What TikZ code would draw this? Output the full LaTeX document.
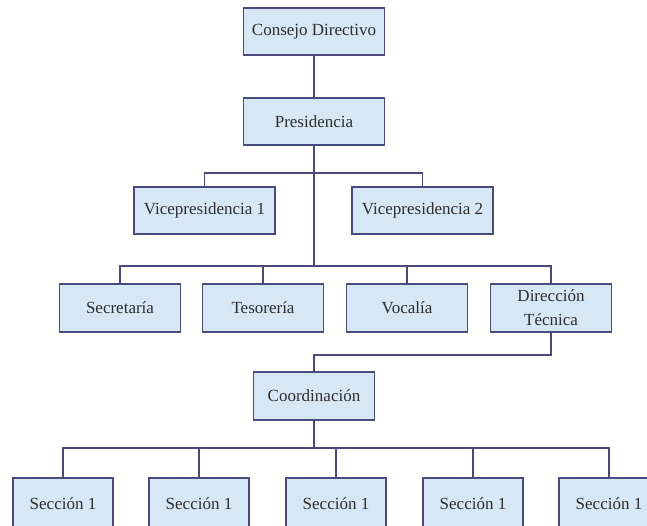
\documentclass[tikz,border=0pt]{standalone}
\usepackage{fontspec}
\setmainfont{Liberation Serif}
\definecolor{boxfill}{HTML}{D6E8F5}
\definecolor{boxline}{HTML}{4A4A7E}
\begin{document}
\begin{tikzpicture}[x=1pt,y=-1pt,
  unit/.style={draw=boxline, fill=boxfill, line width=1.6pt, inner sep=2pt,
    font=\fontsize{17}{24}\selectfont, text=black!82, align=center},
  big/.style={unit, minimum width=141pt, minimum height=47pt},
  mid/.style={unit, minimum width=121pt, minimum height=48pt},
  low/.style={unit, minimum width=100pt, minimum height=52pt},
  link/.style={draw=boxline, line width=1.6pt}]
\useasboundingbox (0,0) rectangle (647,525);
\clip (0,0) rectangle (647,525);

% top of the chart
\node[big] (cd)   at (314,31.5)  {Consejo Directivo};
\node[big] (pres) at (314,121.5) {Presidencia};
\node[big] (v1)   at (204.5,210.5) {Vicepresidencia 1};
\node[big] (v2)   at (422.5,210.5) {Vicepresidencia 2};

% council level
\node[mid] (sec) at (120,308) {Secretaría};
\node[mid] (tes) at (263,308) {Tesorería};
\node[mid] (voc) at (407,308) {Vocalía};
\node[mid] (dir) at (551,308) {Dirección\\Técnica};

% coordination and sections
\node[mid] (coord) at (314,396) {Coordinación};
\node[low] (s1) at (63,504)  {Sección 1};
\node[low] (s2) at (199,504) {Sección 1};
\node[low] (s3) at (336,504) {Sección 1};
\node[low] (s4) at (473,504) {Sección 1};
\node[low] (s5) at (609,504) {Sección 1};

% bus levels
\coordinate (busv) at (0,173);
\coordinate (busc) at (0,266);
\coordinate (busd) at (0,355);
\coordinate (buss) at (0,448);

% connectors
\draw[link] (cd.south) -- (pres.north);
\draw[link] (pres.south) -- (pres.south |- busc);
\draw[link] (v1.north) |- (v2.north |- busv) -- (v2.north);
\draw[link] (sec.north) |- (dir.north |- busc) -- (dir.north);
\draw[link] (tes.north) -- (tes.north |- busc);
\draw[link] (voc.north) -- (voc.north |- busc);
\draw[link] (dir.south) |- (coord.north |- busd) -- (coord.north);
\draw[link] (coord.south) -- (coord.south |- buss);
\draw[link] (s1.north) |- (s5.north |- buss) -- (s5.north);
\draw[link] (s2.north) -- (s2.north |- buss);
\draw[link] (s3.north) -- (s3.north |- buss);
\draw[link] (s4.north) -- (s4.north |- buss);
\end{tikzpicture}
\end{document}
